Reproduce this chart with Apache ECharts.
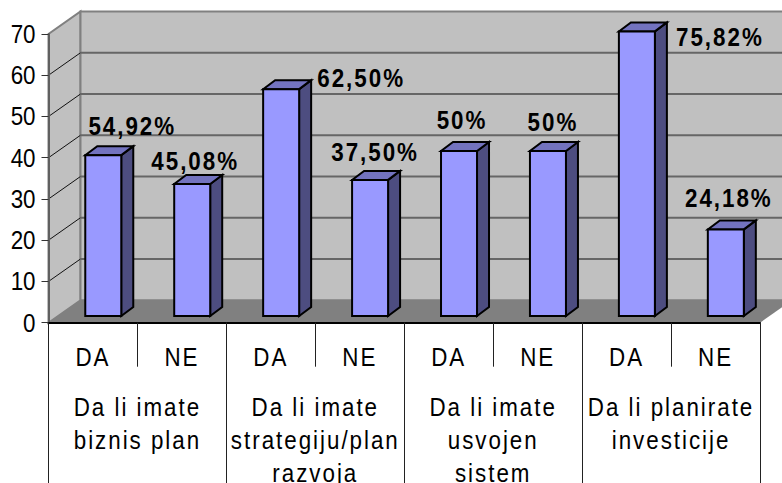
<!DOCTYPE html>
<html>
<head>
<meta charset="utf-8">
<style>
  html, body { margin: 0; padding: 0; background: #fff; }
  #chart { width: 782px; height: 483px; overflow: hidden; }
  /* the original text is spaced out, canvas can't do that so svg + css */
  #chart text { letter-spacing: 2.3px; }
  #chart text[text-anchor="end"] { letter-spacing: 0; }
</style>
<script src="https://cdn.jsdelivr.net/npm/echarts@6/dist/echarts.min.js"></script>
</head>
<body>
<div id="chart"></div>
<script>
var answers = ['DA', 'NE', 'DA', 'NE', 'DA', 'NE', 'DA', 'NE'];
var questions = ['Da li imate\nbiznis plan', 'Da li imate\nstrategiju/plan\nrazvoja', 'Da li imate\nusvojen\nsistem', 'Da li planirate\ninvesticije'];
var values = [39, 32, 55, 33, 40, 40, 69, 21];
var shares = ['54,92%', '45,08%', '62,50%', '37,50%', '50%', '50%', '75,82%', '24,18%'];
var yTicks = [0, 10, 20, 30, 40, 50, 60, 70];

// where each percent label sits relative to top of its bar
var labelShift = [[29, -29], [3, -23], [80, -11], [5, -28], [3, -31], [5, -29], [83, 6], [3, -31]];

var FONT = '"Liberation Sans", Arial, sans-serif';
var wallDx = 32, wallDy = -22.5;   // depth of the 3d box
var barDx = 12, barDy = -9;        // depth of a bar
var barFrontDx = 10.3, barFrontDy = -6.7; // bar sits a bit behind the front edge

function poly(points, fill, stroke, width) {
   return {
      type: 'polygon',
      shape: { points: points },
      style: { fill: fill, stroke: stroke || null, lineWidth: width || 0 }
   };
}

function renderWalls(params, api) {
   var box = params.coordSys;
   var left = box.x, right = box.x + box.width;
   var y0 = api.coord([0, 0])[1], yTop = api.coord([0, 70])[1];
   var kids = [
      // side wall
      poly([[left, y0], [left + wallDx, y0 + wallDy], [left + wallDx, yTop + wallDy], [left, yTop]], '#c0c0c0', '#808080', 2),
      // back wall
      poly([[left + wallDx, y0 + wallDy], [right + wallDx, y0 + wallDy], [right + wallDx, yTop + wallDy], [left + wallDx, yTop + wallDy]], '#c0c0c0', '#808080', 2)
   ];
   yTicks.forEach(function (t) {
      if (t === 0 || t === 70) return;
      var y = api.coord([0, t])[1];
      kids.push({ type: 'line', shape: { x1: left, y1: y, x2: left + wallDx, y2: y + wallDy }, style: { stroke: '#111', lineWidth: 1 } });
      kids.push({ type: 'line', shape: { x1: left + wallDx, y1: y + wallDy, x2: right + wallDx, y2: y + wallDy }, style: { stroke: '#666', lineWidth: 2 } });
   });
   // floor
   kids.push(poly([[left, y0], [right, y0], [right + wallDx, y0 + wallDy], [left + wallDx, y0 + wallDy]], '#808080'));
   return { type: 'group', children: kids };
}

function renderBar(params, api) {
   var i = api.value(0);
   var base = api.coord([i, 0]);
   var top = api.coord([i, api.value(1)]);
   var w = 36;
   var x1 = base[0] - w / 2 + barFrontDx, x2 = x1 + w;
   var yb = base[1] + barFrontDy, yt = top[1] + barFrontDy;
   var dark = '#000';
   return {
      type: 'group',
      children: [
         poly([[x2, yb], [x2 + barDx, yb + barDy], [x2 + barDx, yt + barDy], [x2, yt]], '#4d4d80', dark, 2),
         poly([[x1, yt], [x2, yt], [x2 + barDx, yt + barDy], [x1 + barDx, yt + barDy]], '#7373bf', dark, 2),
         poly([[x1, yb], [x2, yb], [x2, yt], [x1, yt]], '#9999ff', dark, 2),
         {
            type: 'text',
            style: {
               x: (x1 + x2) / 2 + labelShift[i][0],
               y: yt + labelShift[i][1],
               text: shares[i],
               fill: '#000',
               font: 'bold 26px ' + FONT,
               align: 'center',
               verticalAlign: 'middle'
            }
         }
      ]
   };
}

var chart = echarts.init(document.getElementById('chart'), null, { renderer: 'svg' });

// the reference letters are tall and narrow, squeeze them sideways
function squeeze() {
   document.querySelectorAll('#chart text').forEach(function (t) {
      if (t.getAttribute('lengthAdjust')) return;
      t.setAttribute('textLength', t.getComputedTextLength() * 0.86);
      t.setAttribute('lengthAdjust', 'spacingAndGlyphs');
   });
}
chart.on('finished', squeeze);

chart.setOption({
   animation: false,
   grid: { left: 48.5, top: 34, width: 711.5, height: 288.7, outerBoundsMode: 'none' },
   xAxis: [{
      type: 'category',
      data: answers,
      position: 'bottom',
      z: 3,
      axisLine: { show: true, lineStyle: { color: '#000', width: 2 } },
      axisTick: { show: true, length: 44, lineStyle: { color: '#222', width: 1 } },
      axisLabel: { interval: 0, margin: 21, color: '#000', fontFamily: FONT, fontSize: 26 }
   }, {
      type: 'category',
      data: questions,
      position: 'bottom',
      z: 3,
      axisLine: { show: false },
      axisTick: { show: true, length: 161, lineStyle: { color: '#222', width: 1 } },
      axisLabel: { interval: 0, margin: 68, color: '#000', fontFamily: FONT, fontSize: 26, lineHeight: 33 }
   }],
   yAxis: {
      type: 'value',
      min: 0,
      max: 70,
      interval: 10,
      z: 3,
      axisLine: { show: true, lineStyle: { color: '#606060', width: 2 } },
      axisTick: { show: true, length: 7, lineStyle: { color: '#333', width: 1 } },
      axisLabel: { margin: 13, color: '#000', fontFamily: FONT, fontSize: 26, padding: [12, 0, 0, 0] },
      splitLine: { show: false }
   },
   series: [{
      type: 'custom',
      z: 1,
      silent: true,
      renderItem: renderWalls,
      data: [0]
   }, {
      type: 'custom',
      z: 4,
      renderItem: renderBar,
      encode: { x: 0, y: 1 },
      data: values.map(function (v, i) { return [i, v]; })
   }]
});
</script>
</body>
</html>
